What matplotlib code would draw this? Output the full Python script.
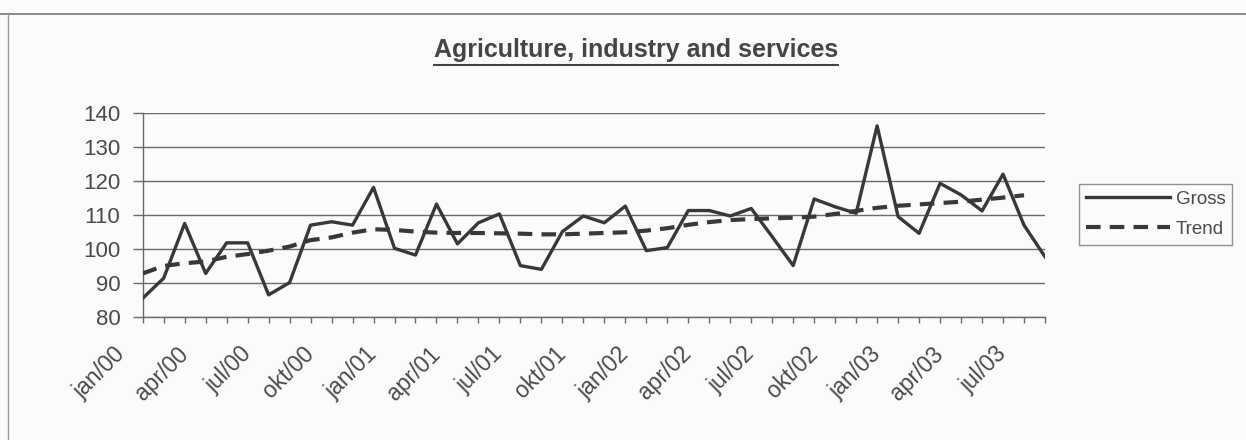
import numpy as np
import matplotlib.pyplot as plt
import matplotlib.transforms as mtransforms
from matplotlib.lines import Line2D

# monthly index, jan/00 .. aug/03
month_names = ["jan", "feb", "mar", "apr", "mai", "jun",
               "jul", "aug", "sep", "okt", "nov", "des"]
years = ["00", "01", "02", "03"]

gross = [85.6, 91.5, 107.6, 92.9, 101.9, 101.9, 86.6, 90.2, 107.1, 108.1,
         107.1, 118.2, 100.3, 98.3, 113.3, 101.6, 107.8, 110.4, 95.2, 94.1,
         105.2, 109.8, 107.8, 112.7, 99.6, 100.5, 111.4, 111.4, 109.8, 112.0,
         103.7, 95.2, 114.8, 112.5, 110.6, 136.3, 109.6, 104.7, 119.4, 116.0,
         111.3, 122.1, 107.1, 97.8]
trend = [92.9, 95.1, 95.9, 96.4, 97.8, 98.6, 99.6, 100.8, 102.7, 103.5,
         104.9, 105.9, 105.7, 105.2, 104.9, 104.8, 104.8, 104.7, 104.6, 104.4,
         104.4, 104.6, 104.8, 105.0, 105.5, 106.2, 107.2, 108.0, 108.6, 108.9,
         109.1, 109.3, 109.6, 110.4, 111.3, 112.2, 112.8, 113.2, 113.6, 114.0,
         114.6, 115.2, 115.9]

labels = [m + "/" + y for y in years for m in month_names][:len(gross)]
x_gross = np.arange(len(gross))
x_trend = np.arange(len(trend))

plt.rcParams['font.family'] = ['Liberation Sans', 'DejaVu Sans']

fig = plt.figure(figsize=(12.46, 4.40), dpi=100, facecolor="#fbfbfb")
ax = fig.add_axes([142.7 / 1246, 1 - 317.3 / 440, (1045 - 142.7) / 1246, (317.3 - 113.3) / 440])
ax.set_facecolor("#fbfbfb")

line_col = "#383838"
ax.plot(x_gross, gross, color=line_col, lw=2.4, label="Gross", zorder=3)
ax.plot(x_trend, trend, color=line_col, lw=3.0, ls=(0, (3.5, 2.2)), label="Trend", zorder=3)

ax.set_xlim(0, len(gross) - 1)
ax.set_ylim(80, 140)
ax.set_yticks(np.arange(80, 141, 10))
ax.yaxis.grid(True, color="#6a6a6a", lw=1.0)
ax.set_axisbelow(True)

ax.set_xticks(x_gross[::3])
ax.set_xticklabels(labels[::3], rotation=45, ha="right", va="top", rotation_mode="anchor")
ax.set_xticks(x_gross, minor=True)

for s in ["top", "right"]:
    ax.spines[s].set_visible(False)
for s in ["left", "bottom"]:
    ax.spines[s].set_color("#6a6a6a")
    ax.spines[s].set_linewidth(1.0)

ax.tick_params(axis="y", length=7, width=1, color="#6a6a6a", pad=9,
               labelsize=16, labelcolor="#4a4a4a")
ax.tick_params(axis="x", which="both", length=4, width=1, color="#6a6a6a")
ax.tick_params(axis="x", which="major", pad=14, labelsize=16.5, labelcolor="#4a4a4a")

shift = mtransforms.ScaledTranslation(-21 / 72, 0, fig.dpi_scale_trans)
for lab in ax.get_xticklabels():
    lab.set_transform(lab.get_transform() + shift)

title = fig.text(636 / 1246, 1 - 57 / 440, "Agriculture, industry and services",
                 ha="center", va="baseline", fontsize=18, fontweight="bold", color="#454545")

leg = ax.legend(loc="upper left", bbox_to_anchor=(1079 / 1246, 1 - 184 / 440),
                bbox_transform=fig.transFigure, frameon=True, fancybox=False,
                fontsize=13.5, handlelength=4.5, handletextpad=0.3,
                borderpad=0.35, labelspacing=0.7, borderaxespad=0)
leg.get_frame().set_edgecolor("#777777")
leg.get_frame().set_linewidth(1.0)
leg.get_frame().set_facecolor("#fbfbfb")
for t in leg.get_texts():
    t.set_color("#4a4a4a")

# underline for the title
fig.canvas.draw()
bb = title.get_window_extent().transformed(fig.transFigure.inverted())
fig.add_artist(Line2D([bb.x0, bb.x1], [bb.y0 - 0.006, bb.y0 - 0.006],
                      transform=fig.transFigure, color="#444444", lw=1.5))

# chart border (top and left edges of the scanned frame)
fig.add_artist(Line2D([0, 1], [1 - 14 / 440, 1 - 14 / 440], transform=fig.transFigure,
                      color="#777777", lw=1.2))
fig.add_artist(Line2D([8 / 1246, 8 / 1246], [0, 1 - 14 / 440], transform=fig.transFigure,
                      color="#999999", lw=1.0))

fig.savefig("out.png", dpi=100, facecolor=fig.get_facecolor())
